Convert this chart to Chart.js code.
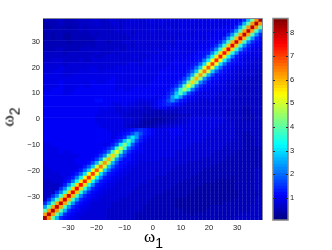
<!DOCTYPE html>
<html><head><meta charset="utf-8">
<script src="https://cdn.jsdelivr.net/npm/chart.js@4/dist/chart.umd.min.js"></script>
<style>
html,body{margin:0;padding:0;background:#fff;width:332px;height:250px;overflow:hidden}
canvas{position:absolute;left:0;top:0;filter:blur(0.45px)}
.lab{position:absolute;font-family:"Liberation Serif",serif;font-size:17px;line-height:17px;color:#000;white-space:nowrap}
.lab span{font-family:"Liberation Sans",sans-serif;font-size:14px;position:relative;top:6px;left:0}
</style></head><body>
<div style="position:absolute;left:0;top:0;width:332px;height:250px">
<canvas id="c1" width="332" height="250"></canvas>
<canvas id="c2" width="332" height="250"></canvas>
<div class="lab" style="left:144px;top:228px">ω<span>1</span></div>
<div class="lab" style="left:-1px;top:108px;transform:rotate(-90deg)">ω<span>2</span></div>
</div>
<script>
const xTicks=[-30,-20,-10,0,10,20,30];
const yTicks=[-30,-20,-10,0,10,20,30];
const barTicks=[1,2,3,4,5,6,7,8];
const axisMin=-39, axisMax=39;
const valueMin=0.07, valueMax=8.59;
// Colour levels, one character per cell (0-9a-zA-Z = level 0..61), top row first.
const rows=[
"33344 33344 44554 45554 55655 56656 66656 66666 66766 67777 ajuLZ",
"23334 33334 44454 44554 55555 55656 55556 66656 66666 6677a jtKYK",
"22333 32334 34444 44454 55555 55555 56556 66566 66666 777aj tKYKt",
"33333 33334 34444 44454 55455 55655 55656 66566 66677 77ahs JXJsh",
"23233 22333 33434 44444 45455 55555 55555 66566 67677 7ahsJ XJsha",
"23233 22333 33344 44444 44555 55555 55556 66666 66777 ahrIW Irha8",
"33333 32333 33344 43444 55455 55555 55566 66666 6777a grIWI rga87",
"33333 33333 34344 44444 45455 55555 56566 66667 778ag qHVHq ga877",
"33344 33334 44444 44454 45555 55565 56666 66667 78agq GUGqg a8766",
"44444 34444 44454 44545 55555 56556 66666 66678 89gpG TGpg9 87666",
"44444 44444 44544 55555 55565 55666 66667 67788 9foFS Fof98 76666",
"44555 44445 44555 55555 55555 66666 66676 77789 fnERE nf987 66655",
"55555 45555 55555 55555 56665 66666 66777 7789e mDQDm e9877 66555",
"55556 55555 55655 55566 66666 66666 67677 789el COCle 98766 65555",
"55666 55556 56665 66666 66666 66667 77777 79dkA MAkd9 87665 55544",
"66666 55666 66666 66666 66666 66667 77777 8cjyK yjc88 76655 55544",
"66666 66666 66666 66766 66666 66677 77778 bhwIw hb887 76655 54444",
"66667 66666 66766 67766 66666 66777 7778b guGug b8776 65554 44444",
"66667 66667 66777 77766 66667 67777 778af sDsfa 87766 65544 44444",
"66777 66677 77777 77767 66777 77777 78afq yqfa8 77666 65544 44444",
"77777 66777 77777 77777 77777 77777 79cks kc976 66665 55544 44444",
"77777 77777 77777 77777 77777 77767 8ahmh a8766 66655 55544 44444",
"77777 77777 77788 77777 77766 66678 9cgc9 87665 55655 55444 44444",
"77777 77777 77777 77666 76655 55678 9a987 65555 55555 55444 44444",
"77777 77777 77776 76655 65555 44567 76655 55555 55555 55444 33444",
"77777 77777 77776 66655 55444 44333 44445 55555 55555 54444 33444",
"77777 77777 77766 66665 54444 33333 33334 44555 55555 54444 33344",
"77777 77777 77766 66666 55544 33222 33344 55666 66666 55444 33344",
"77777 77777 77766 66666 55443 22233 34445 56666 66666 55544 44444",
"77777 77777 77776 66666 54433 33344 55566 66666 66665 55544 44444",
"77777 77777 77777 76666 6789a 98766 67777 66666 66655 55544 44444",
"77777 77777 77777 77667 89cgc 98766 66777 66666 66555 55544 33444",
"77777 77777 77777 77678 ahmha 87666 66766 66666 65555 55544 33344",
"77777 77777 77777 7779c kskc9 76666 66666 66666 55555 55444 33344",
"66777 77777 77777 679dn wnd97 66666 66666 66555 55555 54444 33344",
"66667 77777 77777 8aeqA qea87 66666 66666 65555 55555 44444 33333",
"66667 66777 77778 afsDs fa877 66666 66655 55555 55544 44433 33333",
"66666 66667 7778b guGug b8766 66666 66655 55555 55444 44333 33333",
"66666 66677 778bh wIwhb 88766 66665 55555 55554 44444 43333 33333",
"66666 66677 78cjy Kyjc8 87665 55555 55555 54444 44443 33333 33333",
"56666 66667 9dkAM Akd98 76655 55555 55544 44444 44333 33333 33333",
"55666 66679 elCOC le987 66555 55555 55444 44444 33333 33333 33344",
"55556 6679e mDQDm e9876 65555 55555 54444 44443 33333 33333 33344",
"55555 679fn EREnf 98766 55555 55544 44444 44333 33333 33233 33344",
"44555 79foF SFof9 87665 55555 54444 44444 33333 33322 22233 33344",
"44445 9gpGT Gpg98 76655 55554 44444 44433 33333 22222 22233 33344",
"4444a gqGUG qga87 66555 55544 44444 44333 33322 22222 22233 33344",
"444ag qHVHq ga876 65555 55444 44444 33333 33222 22222 22223 33334",
"44agr IWIrg a8766 55555 54444 44433 33333 32222 22222 22223 33334",
"4ahrI WIrha 87665 55554 44444 44333 33322 22222 22222 22233 33344",
"ahsJX Jsha8 76555 55444 44444 43333 33322 22222 22222 33333 33344",
"hsJXJ sha87 66555 55444 44444 33333 33322 22222 22333 33333 33444",
"tKYKt ja876 65555 54444 44444 33333 33333 22222 23333 33333 33444",
"KYKtj a8766 55555 54444 44433 33333 33333 33233 33333 33334 44444",
"ZLuja 87665 55555 54444 44433 33333 33333 33333 33333 33344 44444"
];
const CODE="0123456789abcdefghijklmnopqrstuvwxyzABCDEFGHIJKLMNOPQRSTUVWXYZ";
const LEVELS=64, step=(valueMax-valueMin)/LEVELS;
function jet(i){
  const t=(i+0.5)/LEVELS*4;
  const c=v=>Math.round(255*Math.max(0,Math.min(1,v)));
  return `rgb(${c(Math.min(t-1.5,4.5-t))},${c(Math.min(t-0.5,3.5-t))},${c(Math.min(t+0.5,2.5-t))})`;
}
function levelOf(v){return Math.max(0,Math.min(LEVELS-1,Math.floor((v-valueMin)/step)));}
const cells=[];
const nRows=rows.length;
rows.forEach((s,r)=>{
  const chars=s.replace(/ /g,"");
  const w=(axisMax-axisMin)/chars.length, h=(axisMax-axisMin)/nRows;
  [...chars].forEach((ch,j)=>{
    cells.push({x:axisMin+(j+0.5)*w,y:axisMax-(r+0.5)*h,v:valueMin+(CODE.indexOf(ch)+0.5)*step});
  });
});
const font={family:'"Liberation Sans",Arial,sans-serif',size:7.5};
const minus=v=>String(v).replace('-','\u2212');
const edges={id:'edges',afterDraw(ch){
  const a=ch.chartArea,g=ch.ctx;g.save();g.strokeStyle='#85859a';g.lineWidth=1;
  g.beginPath();g.moveTo(a.left,a.top);g.lineTo(a.right,a.top);g.lineTo(a.right,a.bottom);g.stroke();g.restore();
}};
new Chart(document.getElementById('c1'),{
  type:'scatter',
  data:{datasets:[{data:cells,clip:0,pointStyle:'rect',pointRadius:3,pointBorderWidth:0,pointHoverRadius:3,
    pointBackgroundColor:c=>jet(levelOf(c.raw.v))}]},
  plugins:[edges],
  options:{responsive:false,animation:false,events:[],
    layout:{padding:{left:0,right:69.5,top:18.5,bottom:0}},
    plugins:{legend:{display:false},tooltip:{enabled:false}},
    scales:{
      x:{type:'linear',min:axisMin,max:axisMax,grid:{display:false,drawTicks:false},border:{display:false},
        afterBuildTicks:s=>{s.ticks=xTicks.map(value=>({value}));},
        afterFit:s=>{s.height=30;},
        ticks:{autoSkip:false,maxRotation:0,padding:3,color:'#222',font,callback:minus}},
      y:{type:'linear',min:axisMin,max:axisMax,grid:{display:false,drawTicks:false},border:{display:false},
        afterBuildTicks:s=>{s.ticks=yTicks.map(value=>({value}));},
        afterFit:s=>{s.width=43;},
        ticks:{autoSkip:false,padding:3,color:'#222',font,callback:minus}}
    }}
});
const barSets=[];
for(let i=0;i<LEVELS;i++){
  barSets.push({data:[[valueMin+i*step,valueMin+(i+1)*step+(i<LEVELS-1?0.03:0)]],backgroundColor:jet(i),
    borderWidth:0,barPercentage:1,categoryPercentage:1,grouped:false,order:LEVELS-i});
}
const barFrame={id:'barFrame',afterDraw(ch){
  const a=ch.chartArea,g=ch.ctx,y=ch.scales.y;g.save();
  g.strokeStyle='#808080';g.lineWidth=1.5;g.strokeRect(a.left,a.top,a.right-a.left,a.bottom-a.top);
  g.strokeStyle='#303030';g.lineWidth=1;
  barTicks.forEach(v=>{const p=Math.round(y.getPixelForValue(v))+0.5;
    g.beginPath();g.moveTo(a.left,p);g.lineTo(a.left+2,p);g.moveTo(a.right-2,p);g.lineTo(a.right,p);g.stroke();});
  g.restore();
}};
new Chart(document.getElementById('c2'),{
  type:'bar',
  data:{labels:['level'],datasets:barSets},
  plugins:[barFrame],
  options:{responsive:false,animation:false,events:[],
    layout:{padding:{left:273,right:0,top:18.5,bottom:30}},
    plugins:{legend:{display:false},tooltip:{enabled:false}},
    scales:{
      x:{display:false},
      y:{type:'linear',position:'right',min:valueMin,max:valueMax,grid:{display:false,drawTicks:false},border:{display:false},
        afterBuildTicks:s=>{s.ticks=barTicks.map(value=>({value}));},
        afterFit:s=>{s.width=44;},
        ticks:{autoSkip:false,padding:2,color:'#222',font}}
    }}
});
</script>
</body></html>
